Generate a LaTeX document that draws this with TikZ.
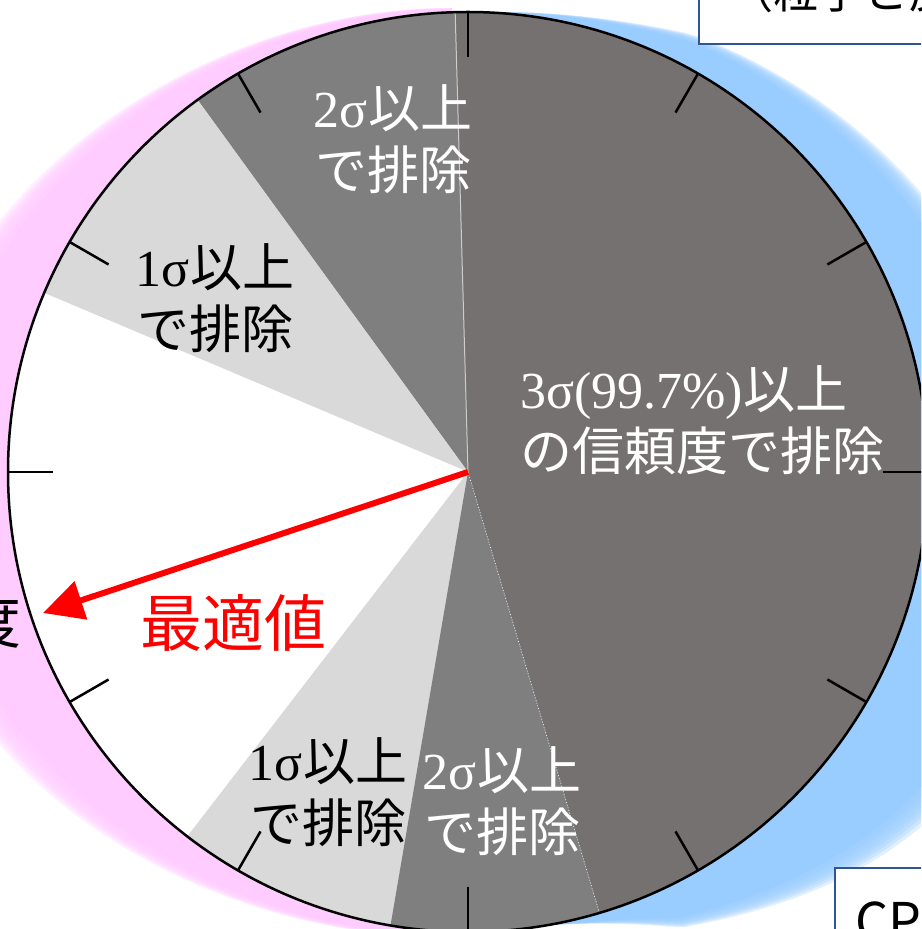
\documentclass[tikz,border=0pt]{standalone}
\usepackage{fontspec}
\setmainfont{Liberation Serif}
\newfontfamily\jp{Noto Sans CJK JP}
\usetikzlibrary{arrows.meta}
\definecolor{darkthree}{HTML}{767171}
\definecolor{graytwo}{HTML}{7F7F7F}
\definecolor{lightone}{HTML}{D9D9D9}
\definecolor{pinkglow}{HTML}{FFCCFF}
\definecolor{blueglow}{HTML}{99CCFF}
\definecolor{boxblue}{HTML}{2F5597}
\pgfmathdeclarefunction{pinkext}{2}{\pgfmathparse{#2*exp(-((#1-185)/ifthenelse(#1<185,52,48))^2)}}
\pgfmathdeclarefunction{blueext}{2}{\pgfmathparse{#2*exp(-((#1+25)/ifthenelse(#1>-25,74,38))^2)*max(0,min(1,(88-#1)/25))*max(0,min(1,(#1+80)/15))}}
\begin{document}
\begin{tikzpicture}[x=1pt,y=1pt,
  lbl/.style={align=center, inner sep=0pt, font=\fontsize{52}{62}\selectfont},
  tickline/.style={line width=2.5pt, black},
  boxframe/.style={draw=boxblue, line width=2pt, fill=white}]
\clip (0,0) rectangle (921,929);
\coordinate (C) at (468,457);
% ---------- glows ----------
\begin{scope}[shift={(468,457)}]
  \fill[pinkglow] plot[domain=92:275,samples=100,variable=\t] (\t:{460+pinkext(\t,76)}) -- (0,0) -- cycle;
  \foreach \w in {80,84,88,92,96,100,104,108}{
    \fill[pinkglow, fill opacity=0.3] plot[domain=92:275,samples=100,variable=\t] (\t:{460+pinkext(\t,\w)}) -- (0,0) -- cycle;
  }
  \fill[blueglow] plot[domain=-82:90,samples=100,variable=\t] (\t:{460+blueext(\t,98)}) -- (0,0) -- cycle;
  \foreach \w in {102,106,110,114,118,122,126,130}{
    \fill[blueglow, fill opacity=0.3] plot[domain=-82:90,samples=100,variable=\t] (\t:{460+blueext(\t,\w)}) -- (0,0) -- cycle;
  }
\end{scope}
% ---------- boxes ----------
\draw[boxframe] (699,885) rectangle (940,960);
\node[anchor=base west, inner sep=0pt, font=\fontsize{45}{45}\selectfont\jp] (toptext) at (728,920) {（粒子と反};
\draw[boxframe] (835,61) rectangle (960,-20);
\node[anchor=base west, inner sep=0pt, font=\fontsize{52}{52}\selectfont\jp] (cp) at (855,-12) {CP};
% ---------- pie ----------
\fill[darkthree] (C) -- +(-73.4:460) arc[start angle=-73.4, end angle=91.6, radius=460] -- cycle;
\fill[graytwo] (C) -- +(91.6:460) arc[start angle=91.6, end angle=126, radius=460] -- cycle;
\fill[lightone] (C) -- +(126:460) arc[start angle=126, end angle=157.1, radius=460] -- cycle;
\fill[white] (C) -- +(157.1:460) arc[start angle=157.1, end angle=232.4, radius=460] -- cycle;
\fill[lightone] (C) -- +(232.4:460) arc[start angle=232.4, end angle=260.3, radius=460] -- cycle;
\fill[graytwo] (C) -- +(260.3:460) arc[start angle=260.3, end angle=286.6, radius=460] -- cycle;
\draw[gray!40, line width=1pt] (C) -- +(91.6:460);
\draw[white!85!gray, line width=0.8pt, dotted] (C) -- +(-73.4:460);
\begin{scope}[shift={(468,457)}]
  \foreach \a in {0,30,...,330}{
    \draw[tickline] (\a:460) -- (\a:415);
  }
\end{scope}
\draw[line width=2.5pt] (C) circle[radius=460];
% ---------- labels ----------
\node[lbl, text=white] (s2top) at (393,790) {2σ{\jp 以上}\\{\jp で排除}};
\node[lbl] (s1top) at (215,631) {1σ{\jp 以上}\\{\jp で排除}};
\node[lbl, text=white, align=left, anchor=west] (s3) at (520,509) {3σ(99.7\%){\jp 以上}\\{\jp の信頼度で排除}};
\node[lbl] (s1bot) at (328,137) {1σ{\jp 以上}\\{\jp で排除}};
\node[lbl, text=white] (s2bot) at (502,128) {2σ{\jp 以上}\\{\jp で排除}};
\node[text=red, inner sep=0pt, font=\fontsize{62}{62}\selectfont\jp] (opt) at (233,306) {最適値};
\node[inner sep=0pt, font=\fontsize{58}{58}\selectfont\jp] (deg) at (-7,307) {度};
% ---------- arrow ----------
\coordinate (tip) at (43,316);
\draw[red, line width=6pt, -{Triangle[length=40pt,width=39pt]}] (C) -- (tip);
\end{tikzpicture}
\end{document}
